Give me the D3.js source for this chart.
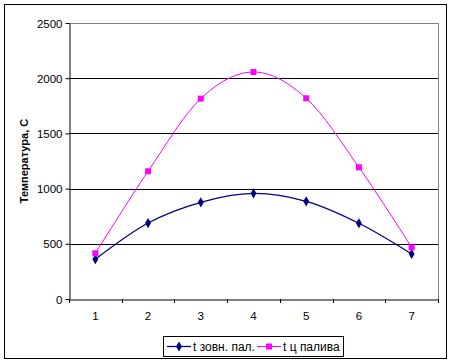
<!DOCTYPE html>
<html><head><meta charset="utf-8">
<script src="https://cdn.jsdelivr.net/npm/d3@7"></script>
<style>body{margin:0;background:#fff}svg{display:block}text{font-family:"Liberation Sans",Arial,sans-serif}</style>
</head><body><svg id="c" width="451" height="363"></svg>
<script>
const categories = ["1","2","3","4","5","6","7"];
const seriesNames = ["t зовн. пал.", "t ц палива"];
const outerGas = [360, 688, 876, 957, 885, 686, 408];
const fuel = [414, 1157, 1815, 2056, 1818, 1193, 468];
const yTicks = [0, 500, 1000, 1500, 2000, 2500];
const yTitle = "Температура, С";
const colors = ["#000080", "#FF00FF"];

const svg = d3.select("#c");
const L = 69, R = 438, T = 23, B = 299;
svg.append("rect").attr("x",4.5).attr("y",4.5).attr("width",442).attr("height",354)
  .attr("fill","#fff").attr("stroke","#000");

const x = d3.scaleBand().domain(categories).range([L, R]).padding(0);
const y = d3.scaleLinear().domain([0, 2500]).range([B, T]);

// plot frame (top/right gray)
svg.append("path").attr("d",`M${L},${T+0.5}H${R+0.5}V${B}`).attr("fill","none").attr("stroke","#808080");
// gridlines
svg.append("g").selectAll("line").data(yTicks.filter(d=>d>0 && d<2500)).join("line")
  .attr("x1",L).attr("x2",R).attr("y1",d=>Math.round(y(d))+0.5).attr("y2",d=>Math.round(y(d))+0.5)
  .attr("stroke","#000");

// y axis
const ya = svg.append("g").attr("transform",`translate(${L+0.5},0)`)
  .call(d3.axisLeft(y).tickValues(yTicks).tickSize(4).tickSizeOuter(0).tickFormat(d3.format("d")));
ya.select(".domain").attr("stroke","#000");
ya.selectAll(".tick line").attr("stroke","#000");
ya.selectAll(".tick text").attr("font-size","11.5px").attr("fill","#000").attr("x",-7).attr("dy","0.36em");

// x axis
const xa = svg.append("g").attr("transform",`translate(0,${B+0.5})`)
  .call(d3.axisBottom(x).tickSize(0).tickSizeOuter(0));
xa.select(".domain").attr("stroke","#000");
xa.selectAll(".tick text").attr("font-size","11.5px").attr("fill","#000").attr("dy","0").attr("y",20);
// ticks between categories
svg.append("g").selectAll("line").data(d3.range(categories.length+1)).join("line")
  .attr("x1",i=>Math.round(L + i*x.bandwidth())+0.5).attr("x2",i=>Math.round(L + i*x.bandwidth())+0.5)
  .attr("y1",B).attr("y2",B+4).attr("stroke","#000");

// y title
svg.append("text").attr("transform",`translate(28,${(T+B)/2}) rotate(-90)`)
  .attr("text-anchor","middle").attr("font-size","11px").attr("font-weight","bold").text(yTitle);

const cx = c => x(c) + x.bandwidth()/2;
const line = d3.line().curve(d3.curveCardinal.tension(0)).x((d,i)=>cx(categories[i])).y(d=>y(d));
const diamond = d3.symbol().type(d3.symbolDiamond).size(30);

[outerGas, fuel].forEach((vals, s) => {
  svg.append("path").attr("d", line(vals)).attr("fill","none").attr("stroke",colors[s]).attr("stroke-width", s===0?1.3:1);
  const g = svg.append("g");
  if (s===0) {
    g.selectAll("path").data(vals).join("path").attr("d", diamond)
      .attr("transform",(d,i)=>`translate(${cx(categories[i])},${y(d)})`).attr("fill",colors[0]);
  } else {
    g.selectAll("rect").data(vals).join("rect")
      .attr("x",(d,i)=>cx(categories[i])-3).attr("y",d=>y(d)-3).attr("width",6).attr("height",6).attr("fill",colors[1]);
  }
});

// legend
const lg = svg.append("g");
lg.append("rect").attr("x",163.5).attr("y",336.5).attr("width",180).attr("height",20).attr("fill","#fff").attr("stroke","#000");
const lx = [167, 257];
seriesNames.forEach((n,s)=>{
  const yy = 346.5;
  lg.append("line").attr("x1",lx[s]).attr("x2",lx[s]+24).attr("y1",yy).attr("y2",yy).attr("stroke",colors[s]).attr("stroke-width",s===0?1.3:1);
  if (s===0) lg.append("path").attr("d",diamond).attr("transform",`translate(${lx[s]+12},${yy})`).attr("fill",colors[0]);
  else lg.append("rect").attr("x",lx[s]+9).attr("y",yy-3).attr("width",6).attr("height",6).attr("fill",colors[1]);
  lg.append("text").attr("x",lx[s]+26).attr("y",yy).attr("dy","0.36em").attr("font-size","12px").text(n);
});
</script></body></html>
